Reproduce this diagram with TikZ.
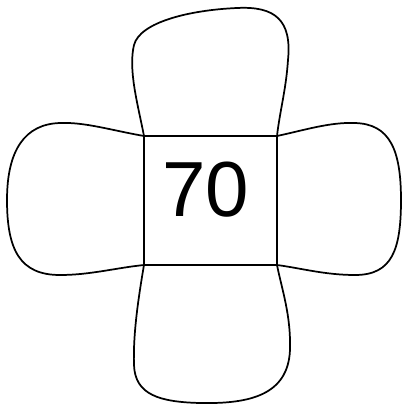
\documentclass[tikz,border=0pt]{standalone}
\usepackage{fontspec}
\setmainfont{Liberation Sans}
\usepackage{tikz}
\usetikzlibrary{positioning}

\begin{document}
\begin{tikzpicture}[x=0.75pt, y=-0.75pt,
  lobe/.style={draw=black, line width=1.3pt, line join=round},
  sq/.style={draw=black, line width=1.3pt},
  num/.style={font=\fontsize{58.6}{70}\selectfont, inner sep=0pt}]
  \useasboundingbox (0,0) rectangle (403,405);
  \coordinate (tl) at (144,136);
  \coordinate (tr) at (277,136);
  \coordinate (bl) at (144,265);
  \coordinate (br) at (277,265);
  % four lobes round the square
  \draw[lobe] (tl) .. controls (138,105) and (128,70) .. (134,45)
    .. controls (140,22) and (190,10) .. (237,8)
    .. controls (275,6) and (292,20) .. (288,60)
    .. controls (286,90) and (280,110) .. (tr);
  \draw[lobe] (tl) .. controls (110,130) and (85,122) .. (60,123)
    .. controls (25,124) and (7,150) .. (7,200)
    .. controls (7,250) and (20,275) .. (60,275)
    .. controls (90,275) and (115,268) .. (bl);
  \draw[lobe] (tr) .. controls (305,130) and (330,122) .. (355,123)
    .. controls (390,124) and (401,150) .. (401,200)
    .. controls (401,250) and (392,275) .. (355,275)
    .. controls (325,275) and (300,268) .. (br);
  \draw[lobe] (bl) .. controls (138,300) and (133,335) .. (134,365)
    .. controls (135,395) and (160,402) .. (200,403)
    .. controls (250,404) and (288,395) .. (290,350)
    .. controls (291,315) and (282,290) .. (br);
  % square and its number
  \draw[sq] (tl) -- (tr) -- (br) -- (bl) -- cycle;
  \node[num] (val) at (206,190) {70};
\end{tikzpicture}
\end{document}
